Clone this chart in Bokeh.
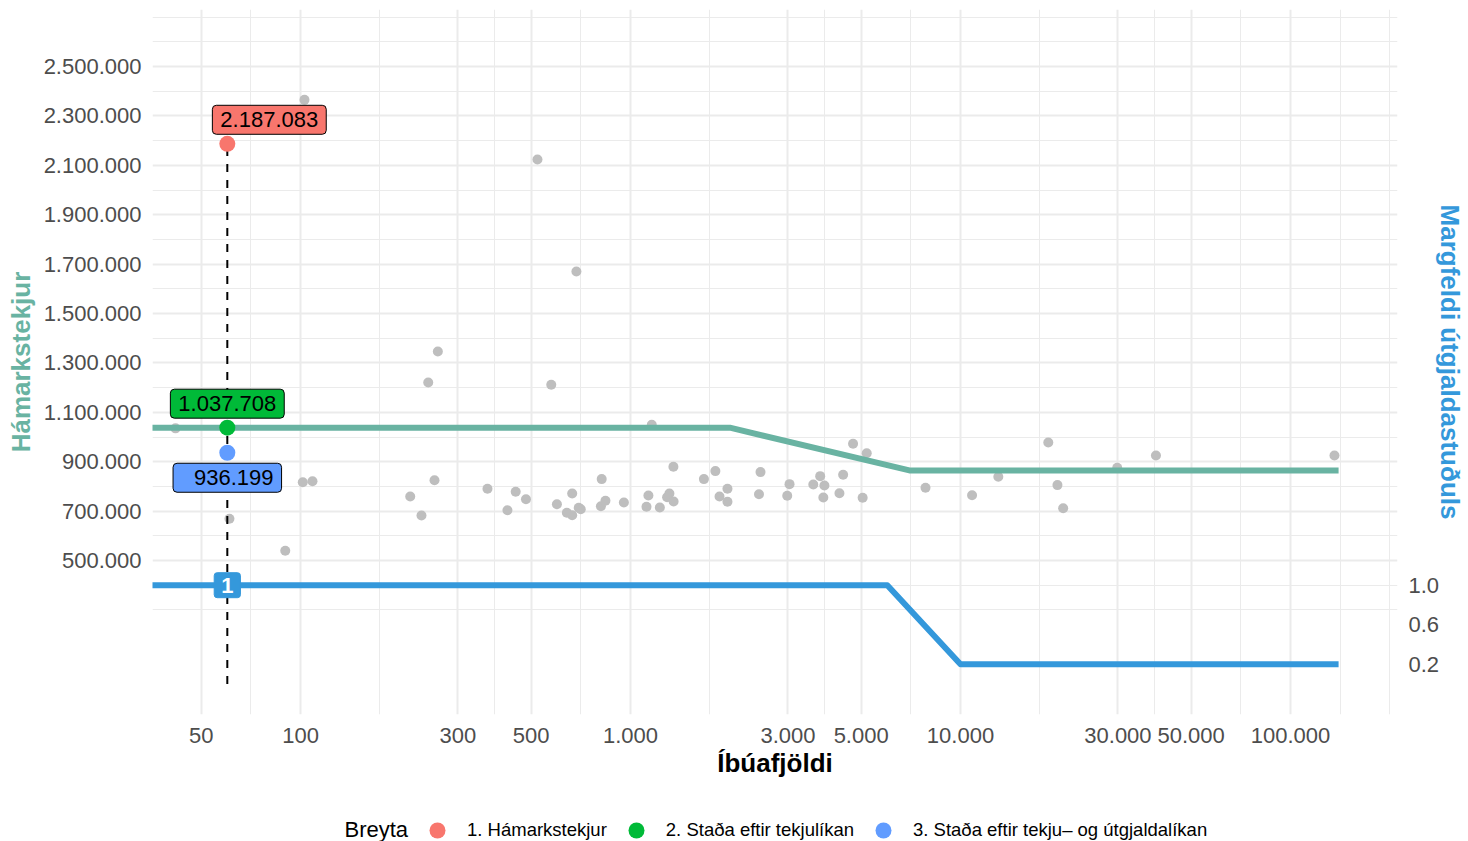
import numpy as np
from bokeh.plotting import figure
from bokeh.layouts import column
from bokeh.models import (Range1d, LinearAxis, FixedTicker, CustomJSTickFormatter,
                          PrintfTickFormatter, Label, Legend, LegendItem, ColumnDataSource)
from bokeh.embed import file_html
from bokeh.resources import INLINE

# ---------------- data ----------------
# municipalities: population and max income (grey points)
muni_pop = [41.8, 102.8, 60.9, 89.9, 101.6, 108.7, 215, 232.6, 254.7, 243.8, 260.7, 368.6,
            522.4, 685.5, 575.2, 1160, 423.7, 448.8, 482.2, 598.4, 641.3, 665.7, 665.7,
            696.8, 706.7, 817.8, 813.4, 839.6, 954.8, 1133, 1118, 1227, 1312, 1291, 1351,
            1349, 1669, 1808, 1861, 1967, 1967, 2477, 2451, 2985, 3033, 3580, 3757, 3869,
            3840, 4297, 4409, 4725, 5198, 5052, 7834, 10840, 13020, 18450, 19670, 20470,
            29850, 39110, 135900]
muni_tekjur = [1035000, 2365000, 668800, 539300, 817000, 821000, 759100, 682200, 825100,
               1220700, 1346200, 790300, 2123500, 1670000, 1211300, 1049400, 703600, 778100,
               748300, 728000, 693100, 683500, 771300, 713400, 707700, 829500, 719900,
               741600, 734800, 763200, 717400, 714600, 771300, 756400, 739000, 879400,
               829500, 861900, 759100, 790300, 737600, 857900, 768500, 762000, 809200,
               807700, 841500, 803600, 755100, 772500, 847000, 972400, 934400, 753800,
               794300, 764400, 838800, 977700, 805200, 711700, 875300, 925100, 925100]

# income model line
line_pop = [1, 2000, 7000, 139875]
line_tekjur = [1037708, 1037708, 864757, 864757]

# expenditure multiplier line (secondary axis)
mult_pop = [1, 6000, 10000, 139875]
mult_vals = [1.0, 1.0, 0.2, 0.2]

# selected municipality
sel_pop = 60
sel_mult = 1.0
sel_labels = ["1. Hámarkstekjur", "2. Staða eftir tekjulíkan",
              "3. Staða eftir tekju\u2013 og útgjaldalíkan"]
sel_values = [2187083, 1037708, 936199]

x_ticks = [50, 100, 300, 500, 1000, 3000, 5000, 10000, 30000, 50000, 100000]
y_ticks = [500000, 700000, 900000, 1100000, 1300000, 1500000, 1700000,
           1900000, 2100000, 2300000, 2500000]
mult_ticks = [0.2, 0.6, 1.0]

# ---------------- styling ----------------
FONT = "Liberation Sans"
sel_colors = ["#F8766D", "#00BA38", "#619CFF"]
TEAL = "#69B3A2"
BLUE = "#3498DB"
GRID = "#EBEBEB"
AXTXT = "#4D4D4D"
MULT_SCALE = 400000
X_LIM = (35.6, 211000)
Y_LIM = (-123500, 2730800)
W = 1468
H_MAIN = 801
H_LEG = 40
FRAME_LEFT = 152


def fmt(v):
    return f"{int(round(v)):,}".replace(",", ".")


# ggplot-style minor breaks (midpoints incl. one extra break on each side)
lx = np.log10(x_ticks)
ext_x = np.concatenate([[lx[0] - (lx[1] - lx[0])], lx, [lx[-1] + (lx[1] - lx[0])]])
x_minor = list(10 ** ((ext_x[:-1] + ext_x[1:]) / 2)) + [10 ** ext_x[0], 10 ** ext_x[-1]]
yt = np.array(y_ticks, dtype=float)
dy = yt[1] - yt[0]
ext_y = np.concatenate([[yt[0] - dy], yt, [yt[-1] + dy]])
y_minor = list((ext_y[:-1] + ext_y[1:]) / 2) + [ext_y[0], ext_y[-1]]

p = figure(width=W, height=H_MAIN, x_axis_type="log",
           x_range=Range1d(*X_LIM), y_range=Range1d(*Y_LIM),
           output_backend="svg", toolbar_location=None,
           min_border_left=FRAME_LEFT, min_border_right=71, min_border_top=9,
           min_border_bottom=H_MAIN - 714)
p.outline_line_color = None
p.background_fill_color = "white"
p.border_fill_color = "white"
p.extra_y_ranges = {"mult": Range1d(Y_LIM[0] / MULT_SCALE, Y_LIM[1] / MULT_SCALE)}

num_formatter = CustomJSTickFormatter(code=r"""
const s = Math.round(tick).toString();
return s.replace(/\B(?=(\d{3})+(?!\d))/g, '.');
""")

xt = FixedTicker(ticks=x_ticks, minor_ticks=x_minor)
ytk = FixedTicker(ticks=y_ticks, minor_ticks=y_minor)
p.xaxis.ticker = xt
p.xgrid.ticker = xt
p.yaxis.ticker = ytk
p.ygrid.ticker = ytk
p.xaxis.formatter = num_formatter
p.yaxis.formatter = num_formatter

for g in (p.xgrid, p.ygrid):
    g.grid_line_color = GRID
    g.grid_line_width = 2
    g.minor_grid_line_color = GRID
    g.minor_grid_line_width = 1

rax = LinearAxis(y_range_name="mult", ticker=FixedTicker(ticks=mult_ticks),
                 formatter=PrintfTickFormatter(format="%.1f"))
p.add_layout(rax, "right")

for ax in (p.xaxis[0], p.yaxis[0], rax):
    ax.axis_line_color = None
    ax.major_tick_line_color = None
    ax.minor_tick_line_color = None
    ax.major_tick_out = 0
    ax.major_tick_in = 0
    ax.minor_tick_out = 0
    ax.minor_tick_in = 0
    ax.major_label_text_font = FONT
    ax.major_label_text_font_size = "22px"
    ax.major_label_text_color = AXTXT
    ax.axis_label_text_font = FONT
    ax.axis_label_text_font_size = "26px"
    ax.axis_label_text_font_style = "bold"

p.xaxis.axis_label = "Íbúafjöldi"
p.xaxis.axis_label_text_color = "black"
p.xaxis.major_label_standoff = 13
p.xaxis.axis_label_standoff = 2

p.yaxis.axis_label = "Hámarkstekjur"
p.yaxis.axis_label_text_color = TEAL
p.yaxis.major_label_standoff = 11
p.yaxis.axis_label_standoff = 5

rax.axis_label = "Margfeldi útgjaldastuðuls"
rax.axis_label_text_color = BLUE
rax.major_label_standoff = 11
rax.axis_label_standoff = -7

# grey points
p.scatter(muni_pop, muni_tekjur, size=10, color="#BEBEBE", line_color=None)

# model lines
p.line(line_pop, line_tekjur, line_width=6, color=TEAL, line_join="round")
p.line(mult_pop, mult_vals, y_range_name="mult", line_width=6, color=BLUE,
       line_join="round")

# dashed marker line
p.segment(x0=[sel_pop], y0=[0], x1=[sel_pop], y1=[max(sel_values)],
          line_color="black", line_width=2, line_dash="8 8")

# selected points
src = ColumnDataSource(dict(x=[sel_pop] * 3, y=sel_values, c=sel_colors))
p.scatter("x", "y", source=src, size=16, color="c", line_color=None)

# value labels
label_layout = [(42, 24, dict(left=8, right=8, top=7, bottom=7)),
                (0, 24, dict(left=8, right=8, top=7, bottom=7)),
                (0, -25, dict(left=21, right=8, top=7, bottom=7))]
for val, col, (dx, dyo, pad) in zip(sel_values, sel_colors, label_layout):
    p.add_layout(Label(x=sel_pop, y=val, text=fmt(val), x_offset=dx, y_offset=dyo,
                       text_align="center", text_baseline="middle",
                       text_font=FONT, text_font_size="22px", text_color="black",
                       background_fill_color=col, border_line_color="black",
                       border_line_width=1, padding=pad, border_radius=4))

p.add_layout(Label(x=sel_pop, y=sel_mult, y_range_name="mult", text=f"{sel_mult:g}",
                   text_align="center", text_baseline="middle", text_font=FONT,
                   text_font_size="22px", text_font_style="bold", text_color="white",
                   background_fill_color=BLUE, border_line_color=BLUE,
                   padding=dict(left=7, right=7, top=5, bottom=5), border_radius=3))

# ---------------- legend strip ----------------
lf = figure(width=W, height=H_LEG, output_backend="svg", toolbar_location=None,
            x_range=Range1d(0, 1), y_range=Range1d(0, 1),
            x_axis_location=None, y_axis_location=None, min_border=0)
lf.outline_line_color = None
lf.xgrid.grid_line_color = None
lf.ygrid.grid_line_color = None
lf.border_fill_color = "white"

items = []
for lab, col, val in zip(sel_labels, sel_colors, sel_values):
    # legend proxies (their data lie outside this strip's ranges)
    r = lf.scatter(x=[sel_pop], y=[val], size=16, color=col, line_color=None)
    items.append(LegendItem(label=lab, renderers=[r]))

legend = Legend(items=items, orientation="horizontal", location=(417 - FRAME_LEFT, -9),
                glyph_width=40, glyph_height=40, label_standoff=10, spacing=9,
                padding=0, margin=0, border_line_alpha=0, background_fill_alpha=0,
                label_text_font=FONT, label_text_font_size="18.5px",
                label_text_color="black")
lf.add_layout(legend)
lf.add_layout(Label(x=344 - FRAME_LEFT, y=12, x_units="screen", y_units="screen",
                    text="Breyta", text_align="left", text_baseline="middle",
                    text_font=FONT, text_font_size="22px", text_color="black"))

layout = column(p, lf, spacing=0)
open("out.html", "w").write(file_html(layout, INLINE))
